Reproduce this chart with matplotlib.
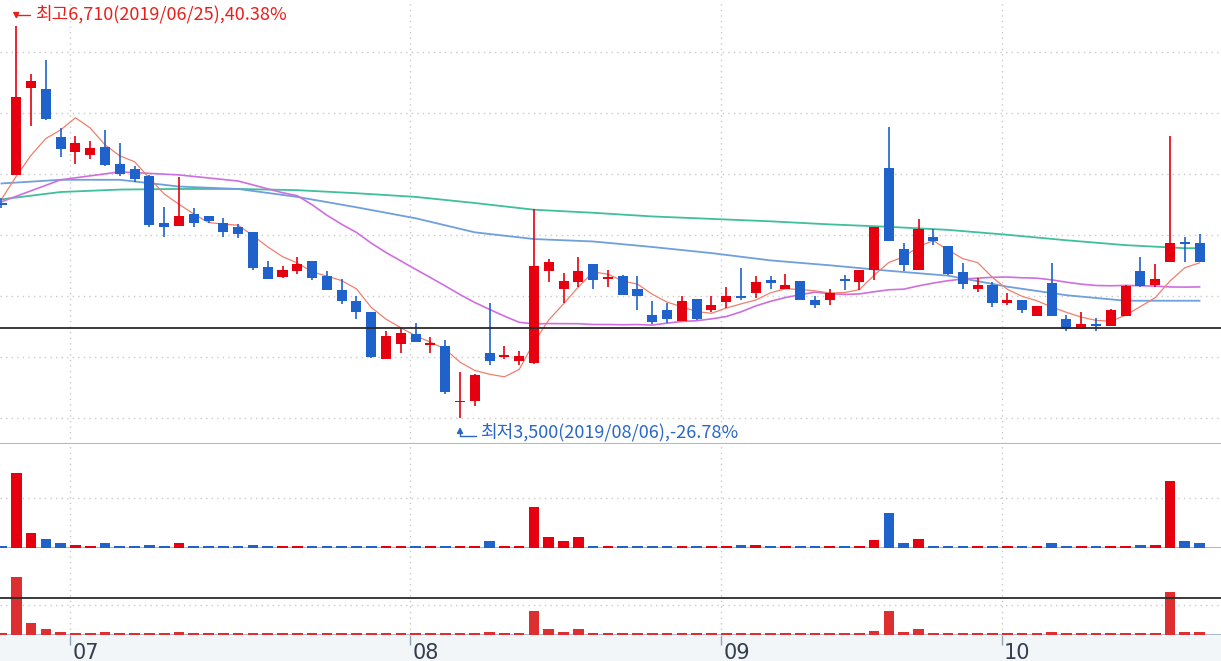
import matplotlib.pyplot as plt
import numpy as np
import pandas as pd

plt.rcParams['font.family'] = ['Noto Sans CJK KR', 'DejaVu Sans']

# daily OHLC (won), 2019/06/24 ~ 2019/10/22
opens = [5260, 5490, 6200, 6190, 5800, 5680, 5650, 5720, 5580, 5540,
         5480, 5100, 5070, 5170, 5150, 5100, 5060, 5020, 4735, 4655,
         4705, 4785, 4665, 4550, 4455, 4365, 3980, 4105, 4185, 4095,
         4090, 3630, 3635, 4035, 4005, 3970, 3950, 4705, 4555, 4615,
         4760, 4640, 4665, 4560, 4345, 4380, 4290, 4475, 4385, 4450,
         4500, 4520, 4630, 4560, 4625, 4465, 4470, 4635, 4615, 4715,
         5545, 4880, 4715, 4980, 4910, 4695, 4555, 4590, 4445, 4465,
         4335, 4605, 4310, 4225, 4270, 4250, 4335, 4700, 4590, 4780,
         4940, 4930]
highs = [5300, 6710, 6320, 6430, 5870, 5810, 5770, 5860, 5750, 5560,
         5490, 5230, 5470, 5220, 5150, 5140, 5090, 5020, 4785, 4745,
         4820, 4785, 4705, 4635, 4500, 4365, 4210, 4235, 4280, 4165,
         4135, 3875, 3860, 4440, 4090, 4050, 5210, 4800, 4685, 4820,
         4760, 4710, 4670, 4665, 4455, 4445, 4495, 4475, 4500, 4575,
         4725, 4665, 4665, 4680, 4625, 4495, 4560, 4670, 4715, 5060,
         5880, 4930, 5130, 5045, 4910, 4770, 4645, 4610, 4525, 4465,
         4415, 4770, 4345, 4365, 4315, 4390, 4585, 4820, 4760, 5805,
         4980, 5005]
lows = [5220, 5490, 5890, 5940, 5640, 5580, 5620, 5560, 5480, 5430,
        5060, 4985, 5070, 5060, 5100, 4985, 4970, 4715, 4635, 4650,
        4675, 4630, 4545, 4430, 4310, 3995, 3980, 4030, 4120, 4030,
        3700, 3500, 3600, 3935, 3980, 3930, 3945, 4610, 4440, 4575,
        4555, 4570, 4505, 4385, 4270, 4275, 4290, 4305, 4370, 4400,
        4470, 4480, 4555, 4555, 4470, 4400, 4425, 4545, 4550, 4630,
        4945, 4700, 4715, 4915, 4670, 4555, 4535, 4405, 4425, 4360,
        4335, 4335, 4210, 4225, 4210, 4250, 4335, 4570, 4570, 4780,
        4780, 4780]
closes = [5250, 6130, 6260, 5950, 5700, 5750, 5710, 5570, 5500, 5460,
          5080, 5060, 5150, 5100, 5110, 5020, 5010, 4725, 4640, 4710,
          4760, 4650, 4545, 4460, 4370, 4000, 4170, 4195, 4125, 4115,
          3710, 3640, 3855, 3970, 4010, 4010, 4745, 4780, 4625, 4700,
          4630, 4650, 4505, 4495, 4285, 4310, 4455, 4310, 4425, 4500,
          4480, 4615, 4605, 4590, 4470, 4425, 4525, 4625, 4710, 5060,
          4950, 4750, 5050, 4950, 4675, 4595, 4590, 4445, 4465, 4385,
          4415, 4335, 4225, 4270, 4250, 4380, 4580, 4580, 4635, 4930,
          4925, 4780]
prior_closes = [5190, 5400, 5265, 5350]

volumes = [170, 7530, 1530, 930, 500, 330, 200, 500, 200, 200,
           330, 200, 500, 200, 200, 200, 200, 330, 200, 200,
           200, 200, 200, 200, 200, 200, 200, 200, 200, 200,
           200, 200, 200, 670, 200, 200, 4100, 1100, 670, 1100,
           200, 200, 200, 200, 200, 200, 200, 200, 200, 200,
           330, 330, 200, 200, 200, 200, 200, 200, 200, 830,
           3500, 500, 930, 200, 200, 200, 200, 200, 200, 200,
           200, 500, 200, 200, 200, 200, 200, 330, 330, 6670,
           670, 500]
amounts = [170, 5830, 1200, 600, 330, 170, 170, 300, 170, 170,
           170, 170, 300, 170, 170, 170, 170, 170, 170, 170,
           170, 170, 170, 170, 170, 170, 170, 170, 170, 170,
           170, 170, 170, 300, 170, 170, 2400, 600, 300, 600,
           170, 170, 170, 170, 170, 170, 170, 170, 170, 170,
           170, 170, 170, 170, 170, 170, 170, 170, 170, 430,
           2400, 300, 600, 170, 170, 170, 170, 170, 170, 170,
           170, 300, 170, 170, 170, 170, 170, 170, 170, 4330,
           300, 300]

# long moving averages (history before the window is unknown)
ma20_head_idx = [0, 4, 8, 12, 16]
ma20_head = [5270, 5450, 5515, 5490, 5440]
ma_idx = [0, 4, 8, 12, 16, 20, 24, 28, 32, 36, 40, 44, 48, 52, 56, 60, 64, 68, 72, 76, 80, 81]
ma60 = [5420, 5450, 5450, 5395, 5375, 5310, 5225, 5135, 5020, 4965, 4945,
        4900, 4850, 4790, 4750, 4705, 4665, 4575, 4505, 4460, 4460, 4460]
ma120 = [5290, 5350, 5370, 5375, 5375, 5365, 5340, 5310, 5260, 5205, 5180,
         5150, 5130, 5110, 5085, 5065, 5040, 5000, 4955, 4915, 4890, 4890]

month_starts = [5, 28, 49, 68]
month_labels = ['07', '08', '09', '10']
price_grid = [3500, 4000, 4500, 5000, 5500, 6000, 6500]
ref_price = 4240
hi_date = '2019/06/25'
lo_date = '2019/08/06'

RED = '#e6000f'
BLUE = '#1f62cc'
BORDER = '#a9bccf'
GRID = '#c9c9c9'

W, H = 1221, 661
fig = plt.figure(figsize=(W / 100, H / 100), dpi=100)


def px_axes(top, bottom):
    a = fig.add_axes([0, 1 - bottom / H, 1, (bottom - top) / H])
    a.set_xticks([])
    a.set_yticks([])
    for s in a.spines.values():
        s.set_visible(False)
    a.set_xlim(-0.10, 82.45)
    return a


ax = px_axes(0, 444)
axv = px_axes(444, 548)
axa = px_axes(548, 635)
axx = px_axes(635, 661)

idx = np.arange(len(closes))
o = np.array(opens)
c = np.array(closes)
up = c >= o
colors = np.where(up, RED, BLUE)
seps = np.array(month_starts) - 0.35

# price panel
ax.set_ylim(3287, 6922)
for p in price_grid:
    ax.axhline(p, color=GRID, lw=1, ls=(0, (1, 3)), zorder=1)
for s in seps:
    for a in (ax, axv, axa):
        a.axvline(s, color=GRID, lw=1, ls=(0, (1, 3)), zorder=1)

ma5 = pd.Series(prior_closes + closes).rolling(5).mean().to_numpy()[len(prior_closes):]
ma20_tail = pd.Series(closes).rolling(20).mean().to_numpy()
ma20_x = ma20_head_idx + list(idx[19:])
ma20_y = ma20_head + list(ma20_tail[19:])
ax.plot(ma_idx, ma120, color='#3fbf9a', lw=1.3, zorder=2)
ax.plot(ma_idx, ma60, color='#6f9fdc', lw=1.3, zorder=2)
ax.plot(ma20_x, ma20_y, color='#cf6ee0', lw=1.2, zorder=2)
ax.plot(idx, ma5, color='#f07f6e', lw=0.9, zorder=2)

ax.vlines(idx, lows, highs, colors=colors, lw=1.2, zorder=3)
body_h = np.maximum(np.abs(c - o), 16)
body_bot = (o + c) / 2 - body_h / 2
ax.bar(idx, body_h, bottom=body_bot, width=0.68, color=colors, lw=0, zorder=4)

ax.axhline(ref_price, color='#2a2a2a', lw=1.3, zorder=5)
ax.spines['bottom'].set_visible(True)
ax.spines['bottom'].set_color(BORDER)
ax.spines['bottom'].set_linewidth(1.5)

# highest / lowest marks
last = closes[-1]
hi_i = int(np.argmax(highs))
lo_i = int(np.argmin(lows))
hi_v = highs[hi_i]
lo_v = lows[lo_i]
TXT_RED = '#e8201c'
TXT_BLUE = '#2a68c4'
ax.annotate('', xy=(hi_i, hi_v), xytext=(10, 8), textcoords='offset points',
            arrowprops=dict(arrowstyle='-|>,head_length=0.35,head_width=0.18', color=TXT_RED, lw=1,
                            shrinkA=0, shrinkB=5, connectionstyle='angle,angleA=0,angleB=90,rad=0'),
            zorder=6)
ax.annotate(f'최고{hi_v:,}({hi_date}),{(hi_v / last - 1) * 100:.2f}%', xy=(hi_i, hi_v),
            xytext=(13.5, 8.5), textcoords='offset points', ha='left', va='center',
            color=TXT_RED, fontsize=13, zorder=6)
ax.annotate('', xy=(lo_i, lo_v), xytext=(11.5, -12.7), textcoords='offset points',
            arrowprops=dict(arrowstyle='-|>,head_length=0.35,head_width=0.18', color=TXT_BLUE, lw=1,
                            shrinkA=0, shrinkB=6.5, connectionstyle='angle,angleA=0,angleB=90,rad=0'),
            zorder=6)
ax.annotate(f'최저{lo_v:,}({lo_date}),{(lo_v / last - 1) * 100:.2f}%', xy=(lo_i, lo_v),
            xytext=(14.4, -10.6), textcoords='offset points', ha='left', va='center',
            color=TXT_BLUE, fontsize=13, zorder=6)

# volume panel
axv.set_ylim(0, 10400)
axv.axhline(5000, color=GRID, lw=1, ls=(0, (1, 3)), zorder=1)
axv.bar(idx, volumes, width=0.72, color=colors, lw=0, zorder=3)
axv.spines['bottom'].set_visible(True)
axv.spines['bottom'].set_color(BORDER)
axv.spines['bottom'].set_linewidth(1.5)

# trading amount panel
axa.set_ylim(0, 8700)
axa.axhline(3000, color=GRID, lw=1, ls=(0, (1, 3)), zorder=1)
axa.bar(idx, amounts, width=0.72, color='#dd2f2f', lw=0, zorder=3)
axa.axhline(3700, color='#2a2a2a', lw=1.3, zorder=4)
axa.spines['bottom'].set_visible(True)
axa.spines['bottom'].set_color(BORDER)
axa.spines['bottom'].set_linewidth(1.5)

# date strip
axx.set_facecolor('#f3f6f8')
axx.set_ylim(0, 1)
axx.vlines(seps, 0.62, 1.0, color='#8fa3b8', lw=1)
for s, lab in zip(seps, month_labels):
    axx.text(s + 0.14, 0.68, lab, ha='left', va='top', fontsize=15,
             family='Liberation Sans Narrow', color='#343e4c')

fig.savefig('out.png', dpi=100)
